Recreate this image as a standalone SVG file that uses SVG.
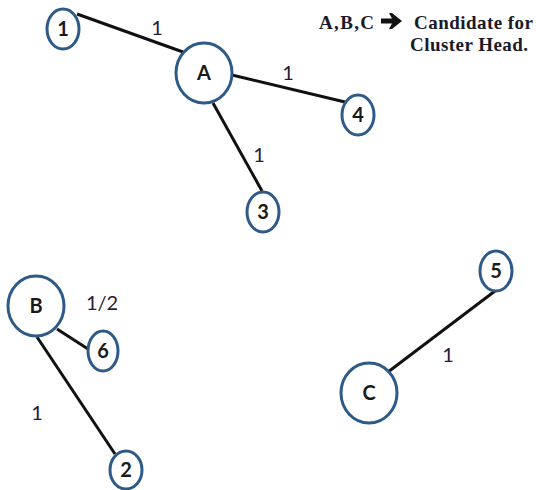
<svg xmlns="http://www.w3.org/2000/svg" width="536" height="490" viewBox="0 0 536 490">
<style>
.n{fill:#fff;stroke:#2e5a88;stroke-width:3}
.t{font-family:"Lato","Liberation Sans",sans-serif;font-weight:bold;font-size:20px;fill:#1a1a1a;text-anchor:middle}
.e{stroke:#111;stroke-width:3;fill:none}
.l{font-family:"Lato","Liberation Sans",sans-serif;font-size:20px;fill:#2a1a3a;text-anchor:middle}
.k{font-family:"Liberation Serif",serif;font-weight:bold;font-size:19px;fill:#1a1a2a}
</style>
<rect width="536" height="490" fill="#fff"/>
<g id="connectors">
<line class="e" x1="77" y1="14" x2="183" y2="52"/>
<line class="e" x1="232" y1="75" x2="345" y2="102"/>
<line class="e" x1="213" y1="103" x2="262" y2="191"/>
<line class="e" x1="57" y1="329" x2="88" y2="349"/>
<line class="e" x1="37" y1="337" x2="115" y2="454"/>
<line class="e" x1="388" y1="372" x2="495" y2="291"/>
</g>
<g id="edge-labels">
<text class="l" x="157" y="35">1</text>
<text class="l" x="288" y="80">1</text>
<text class="l" x="259" y="162">1</text>
<text class="l" x="102" y="310">1/2</text>
<text class="l" x="37" y="420">1</text>
<text class="l" x="448" y="362">1</text>
</g>
<g id="node-1"><ellipse class="n" cx="63" cy="29" rx="16" ry="20"/><text class="t" x="63" y="36">1</text></g>
<g id="node-A"><ellipse class="n" cx="204" cy="73" rx="28" ry="30"/><text class="t" x="204" y="80">A</text></g>
<g id="node-4"><ellipse class="n" cx="358" cy="115" rx="16" ry="20"/><text class="t" x="358" y="122">4</text></g>
<g id="node-3"><ellipse class="n" cx="263" cy="212" rx="16" ry="20"/><text class="t" x="263" y="219">3</text></g>
<g id="node-B"><ellipse class="n" cx="36" cy="306" rx="28" ry="30"/><text class="t" x="36" y="313">B</text></g>
<g id="node-6"><ellipse class="n" cx="103" cy="351" rx="15" ry="20"/><text class="t" x="103" y="358">6</text></g>
<g id="node-2"><ellipse class="n" cx="126" cy="470" rx="16" ry="19"/><text class="t" x="126" y="477">2</text></g>
<g id="node-5"><ellipse class="n" cx="496" cy="271" rx="16" ry="20"/><text class="t" x="496" y="278">5</text></g>
<g id="node-C"><ellipse class="n" cx="369" cy="393" rx="28" ry="30"/><text class="t" x="369" y="400">C</text></g>
<g id="legend">
<text class="k" x="319" y="29" textLength="55">A,B,C</text>
<path d="M381,18.5 L392,18.5 L389,13 L392,13 L402,21 L392,29 L389,29 L392,23.5 L381,23.5 Z" fill="#111"/>
<text class="k" x="414" y="29" textLength="119">Candidate for</text>
<text class="k" x="410" y="51" textLength="118">Cluster Head.</text>
</g>
</svg>
